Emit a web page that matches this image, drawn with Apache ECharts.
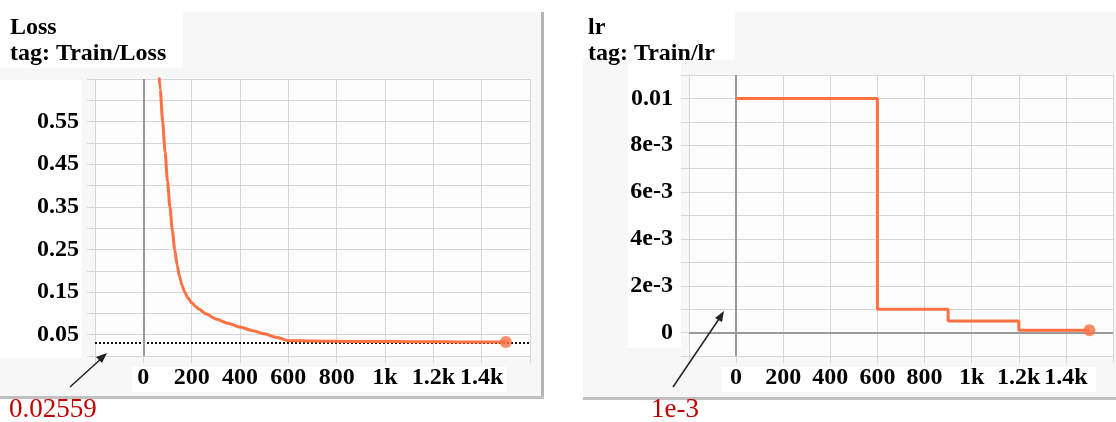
<!DOCTYPE html>
<html>
<head>
<meta charset="utf-8">
<script src="https://cdn.jsdelivr.net/npm/echarts@6/dist/echarts.min.js"></script>
<style>
html,body{margin:0;padding:0;background:#ffffff;}
#c{width:1116px;height:422px;}
</style>
</head>
<body>
<div id="c"></div>
<script>
// ---------------- data ----------------
const lossSteps  = [60, 70, 80, 90, 100, 110, 120, 130, 140, 150, 160, 170, 185, 200, 215, 230, 258, 300, 350, 400, 450, 500, 550, 600, 700, 800, 900, 1000, 1100, 1200, 1300, 1400, 1500];
const lossValues = [0.70, 0.625, 0.55, 0.478, 0.41, 0.35, 0.295, 0.25, 0.213, 0.186, 0.166, 0.151, 0.136, 0.125, 0.117, 0.11, 0.099, 0.087, 0.077, 0.068, 0.060, 0.052, 0.044, 0.036, 0.035, 0.0345, 0.034, 0.034, 0.0335, 0.0335, 0.033, 0.033, 0.033];

const lrSteps  = [0, 600, 900, 1200, 1500];
const lrValues = [0.01, 0.001, 0.0005, 0.0001, 0.0001];

const lossRef = 0.02559;
const lossRefLabel = '0.02559';
const lrRef = 0.001;
const lrRefLabel = '1e-3';

const xTickValues = [0, 200, 400, 600, 800, 1000, 1200, 1400];
const xTickLabels = ['0', '200', '400', '600', '800', '1k', '1.2k', '1.4k'];
const lossTickValues = [0.05, 0.15, 0.25, 0.35, 0.45, 0.55];
const lossTickLabels = ['0.05', '0.15', '0.25', '0.35', '0.45', '0.55'];
const lrTickValues = [0, 0.002, 0.004, 0.006, 0.008, 0.01];
const lrTickLabels = ['0', '2e-3', '4e-3', '6e-3', '8e-3', '0.01'];

const titleLoss = 'Loss\ntag: Train/Loss';
const titleLr = 'lr\ntag: Train/lr';

// ---------------- chart ----------------
const chart = echarts.init(document.getElementById('c'), null, {renderer: 'canvas'});
const FONT = '"Liberation Serif", "Times New Roman", serif';
const ORANGE = '#ff7043';
const GRIDC = '#d6d6d6';
const ZEROC = '#9a9a9a';

function fmt(values, labels) {
  return function (v) {
    for (let i = 0; i < values.length; i++) {
      if (Math.abs(values[i] - v) < 1e-9) return labels[i];
    }
    return '';
  };
}
function zip(a, b) { return a.map((x, i) => [x, b[i]]); }

const labelStyle = {color: '#000', fontFamily: FONT, fontWeight: 'bold', fontSize: 24};

function makeX(gi) {
  return {
    type: 'value', gridIndex: gi, min: -200, max: 1600, interval: 200,
    axisLine: {show: false, onZero: false},
    axisTick: {show: true, length: 7, lineStyle: {color: GRIDC}},
    splitLine: {show: true, lineStyle: {color: GRIDC, width: 1}},
    axisLabel: Object.assign({}, labelStyle, {margin: 10, formatter: fmt(xTickValues, xTickLabels)})
  };
}
function makeY(gi, min, max, interval, vals, labs) {
  return {
    type: 'value', gridIndex: gi, min: min, max: max, interval: interval,
    axisLine: {show: true, onZero: false, lineStyle: {color: GRIDC}},
    axisTick: {show: true, length: 8, lineStyle: {color: GRIDC}},
    splitLine: {show: true, lineStyle: {color: GRIDC, width: 1}},
    axisLabel: Object.assign({}, labelStyle, {margin: 16, formatter: fmt(vals, labs)})
  };
}

const dotted = {type: [2, 2], color: '#111', width: 2};
const zeroLine = {type: 'solid', color: ZEROC, width: 2};
const titleStyle = {fontFamily: FONT, fontWeight: 'bold', fontSize: 24, lineHeight: 26, color: '#000'};

const option = {
  animation: false,
  backgroundColor: '#ffffff',
  title: [
    {text: titleLoss, left: 10, top: 15, padding: 0, textStyle: titleStyle},
    {text: titleLr, left: 588, top: 15, padding: 0, textStyle: titleStyle}
  ],
  grid: [
    {left: 95, top: 79, width: 435, height: 277, show: true, backgroundColor: '#fdfdfd', borderWidth: 0},
    {left: 689, top: 75, width: 430, height: 281, show: true, backgroundColor: '#fdfdfd', borderWidth: 0}
  ],
  xAxis: [makeX(0), makeX(1)],
  yAxis: [
    makeY(0, 0, 0.65, 0.05, lossTickValues, lossTickLabels),
    makeY(1, -0.001, 0.011, 0.001, lrTickValues, lrTickLabels)
  ],
  series: [
    {
      type: 'line', xAxisIndex: 0, yAxisIndex: 0, data: zip(lossSteps, lossValues),
      showSymbol: false, symbol: 'none', smooth: 0.25, smoothMonotone: 'x', clip: true, z: 3,
      lineStyle: {color: ORANGE, width: 3},
      markLine: {
        silent: true, symbol: ['none', 'none'], z: 1, label: {show: false},
        data: [
          {yAxis: lossRef, lineStyle: dotted},
          {xAxis: 0, lineStyle: zeroLine}
        ]
      }
    },
    {
      type: 'scatter', xAxisIndex: 0, yAxisIndex: 0, z: 4,
      data: [[lossSteps[lossSteps.length - 1], lossValues[lossValues.length - 1]]],
      symbol: 'circle', symbolSize: 12, itemStyle: {color: ORANGE}
    },
    {
      type: 'line', xAxisIndex: 1, yAxisIndex: 1, data: zip(lrSteps, lrValues),
      step: 'end', showSymbol: false, symbol: 'none', clip: true, z: 3,
      lineStyle: {color: ORANGE, width: 3},
      markLine: {
        silent: true, symbol: ['none', 'none'], z: 1, label: {show: false},
        data: [
          {yAxis: lrRef, lineStyle: dotted},
          {xAxis: 0, lineStyle: zeroLine},
          {yAxis: 0, lineStyle: zeroLine}
        ]
      }
    },
    {
      type: 'scatter', xAxisIndex: 1, yAxisIndex: 1, z: 4,
      data: [[lrSteps[lrSteps.length - 1], lrValues[lrValues.length - 1]]],
      symbol: 'circle', symbolSize: 12, itemStyle: {color: ORANGE}
    }
  ],
  graphic: [
    // panels
    {type: 'rect', z: -3, shape: {x: 0, y: 12, width: 542, height: 385}, style: {fill: '#f7f7f7'}},
    {type: 'rect', z: -3, shape: {x: 583, y: 12, width: 533, height: 386}, style: {fill: '#f7f7f7'}},
    // panel shadows
    {type: 'rect', z: -2, shape: {x: 541, y: 12, width: 3, height: 387}, style: {fill: '#b4b4b4'}},
    {type: 'rect', z: -2, shape: {x: 0, y: 396, width: 544, height: 3}, style: {fill: '#c0c0c0'}},
    {type: 'rect', z: -2, shape: {x: 583, y: 397, width: 533, height: 3}, style: {fill: '#c0c0c0'}},
    // white label boxes
    {type: 'rect', z: -1, shape: {x: 0, y: 12, width: 183, height: 56}, style: {fill: '#ffffff'}},
    {type: 'rect', z: -1, shape: {x: 0, y: 80, width: 82, height: 278}, style: {fill: '#ffffff'}},
    {type: 'rect', z: -1, shape: {x: 132, y: 367, width: 375, height: 25}, style: {fill: '#ffffff'}},
    {type: 'rect', z: -1, shape: {x: 583, y: 12, width: 152, height: 48}, style: {fill: '#ffffff'}},
    {type: 'rect', z: -1, shape: {x: 628, y: 60, width: 53, height: 288}, style: {fill: '#ffffff'}},
    {type: 'rect', z: -1, shape: {x: 722, y: 367, width: 374, height: 25}, style: {fill: '#ffffff'}},
    // annotation arrows
    {type: 'line', z: 10, shape: {x1: 70, y1: 387, x2: 103, y2: 357}, style: {stroke: '#222', lineWidth: 1.5}},
    {type: 'polygon', z: 10, shape: {points: [[107, 353], [96, 357], [102, 363]]}, style: {fill: '#222'}},
    {type: 'line', z: 10, shape: {x1: 673, y1: 387, x2: 721, y2: 316}, style: {stroke: '#222', lineWidth: 1.5}},
    {type: 'polygon', z: 10, shape: {points: [[724, 311], [715, 318], [722, 322]]}, style: {fill: '#222'}},
    // annotation texts
    {type: 'text', z: 10, x: 9, y: 410, style: {text: lossRefLabel, fill: '#c00000', font: '27px ' + FONT, textVerticalAlign: 'middle'}},
    {type: 'text', z: 10, x: 651, y: 410, style: {text: lrRefLabel, fill: '#c00000', font: '27px ' + FONT, textVerticalAlign: 'middle'}}
  ]
};
chart.setOption(option);
</script>
</body>
</html>
